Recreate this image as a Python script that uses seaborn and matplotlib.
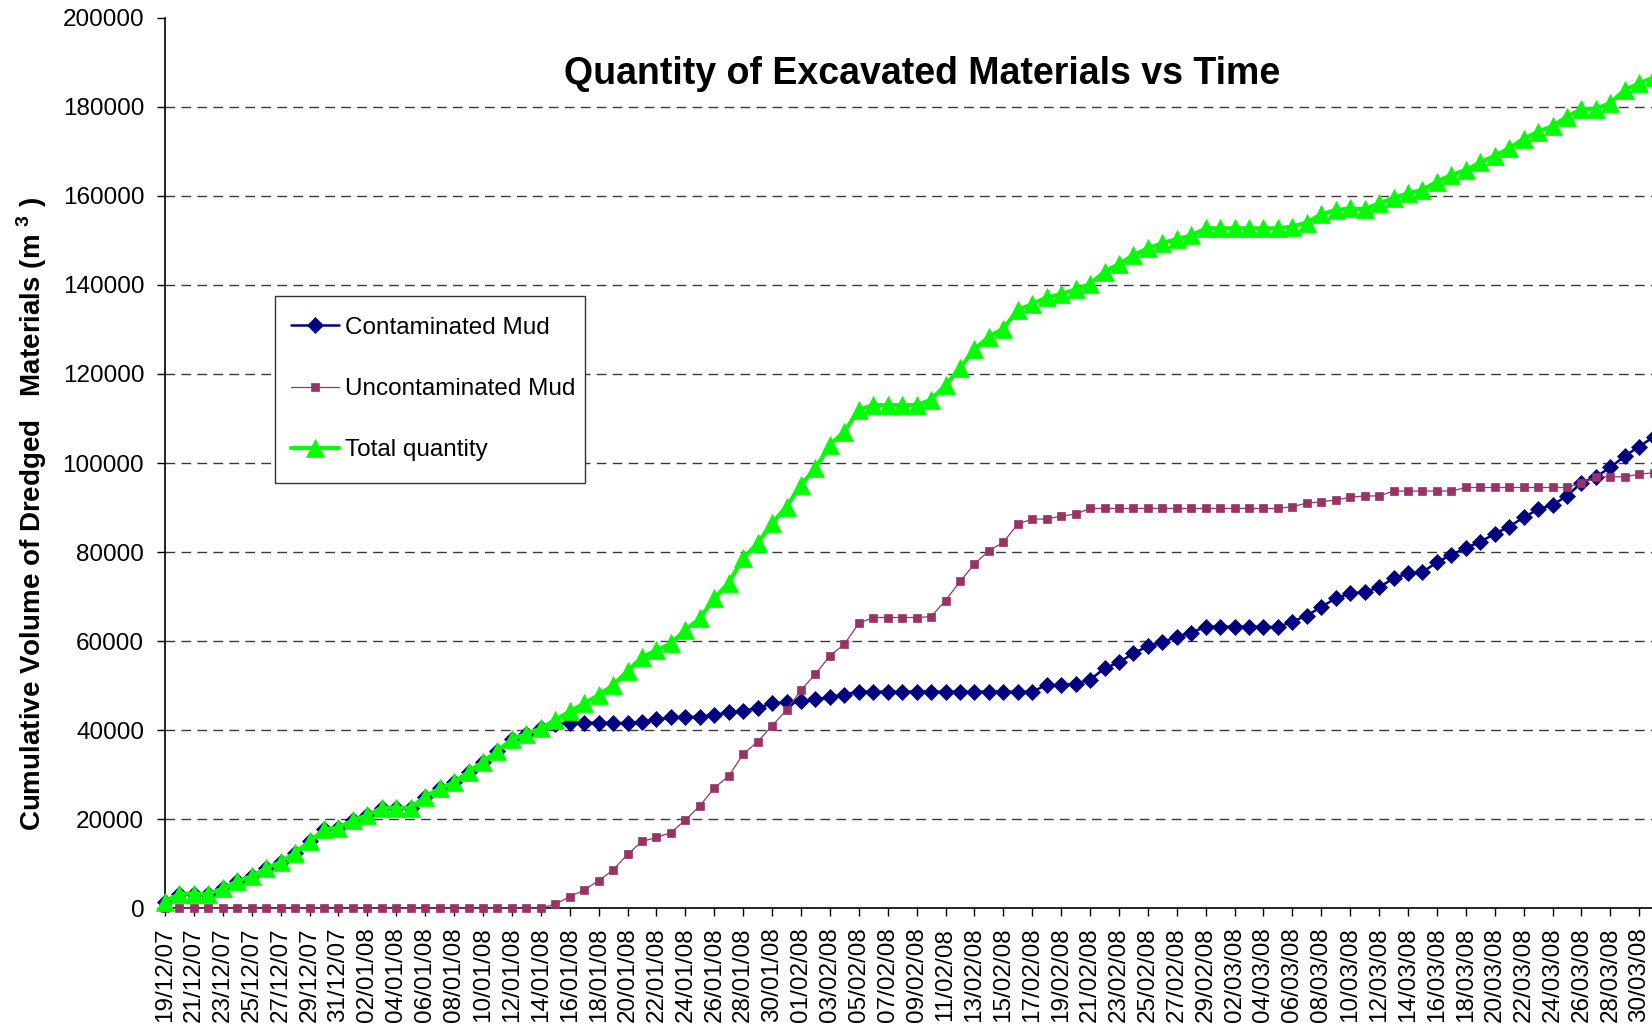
import matplotlib
matplotlib.use("Agg")
import matplotlib.pyplot as plt
import matplotlib.dates as mdates
from matplotlib.patches import Rectangle
import seaborn as sns
import pandas as pd

# daily dates 19/12/07 .. 31/03/08
days = pd.date_range("2007-12-19", "2008-03-31", freq="D")
tick_days = days[::2]

contaminated = [
    1500, 3300, 3300, 3200, 4500, 6100, 7250, 9000, 10400, 12500,
    15000, 17700, 18100, 19800, 20900, 22600, 22600, 22600, 25100, 26900,
    28300, 30700, 32900, 35300, 38000, 39200, 40400, 41400, 41600, 41700,
    41700, 41600, 41600, 41800, 42400, 42900, 43000, 43000, 43400, 44000,
    44300, 45000, 46000, 46300, 46500, 46900, 47400, 48000, 48650, 48650,
    48650, 48650, 48650, 48650, 48650, 48650, 48650, 48650, 48650, 48650,
    48650, 50150, 50150, 50400, 51300, 53900, 55200, 57300, 58800, 59700,
    61000, 61900, 63250, 63250, 63250, 63250, 63250, 63100, 64400, 65700,
    67700, 69600, 70700, 71000, 72100, 74100, 75200, 75500, 77700, 79400,
    80900, 82300, 84100, 85700, 87800, 89600, 90600, 92600, 95600, 96900,
    99000, 101600, 103700, 105900,
]

uncontaminated = [
    0, 0, 0, 0, 0, 0, 0, 0, 0, 0,
    0, 0, 0, 0, 0, 0, 0, 0, 0, 0,
    0, 0, 0, 0, 0, 0, 0, 900, 2600, 4100,
    6200, 8600, 12100, 15000, 15900, 17000, 19800, 23000, 27000, 29700,
    34600, 37400, 41000, 44500, 49000, 52600, 56700, 59300, 64000, 65300,
    65300, 65300, 65300, 65500, 69100, 73400, 77300, 80300, 82200, 86300,
    87400, 87400, 88100, 88500, 89800, 89800, 89800, 89800, 89800, 89800,
    89800, 89800, 89800, 89800, 89800, 89800, 89800, 89800, 90200, 91000,
    91300, 91700, 92300, 92600, 92600, 93700, 93700, 93700, 93700, 93700,
    94500, 94500, 94500, 94500, 94500, 94500, 94500, 94500, 95500, 96900,
    96900, 96900, 97500, 97800,
]

total = [
    1500, 3300, 3300, 3200, 4500, 6100, 7250, 9000, 10400, 12500,
    15000, 17700, 18100, 19800, 20900, 22600, 22600, 22600, 25100, 26900,
    28300, 30700, 32900, 35300, 38000, 39200, 40400, 42300, 44200, 46000,
    47900, 50100, 53300, 56400, 57900, 59500, 62500, 65100, 69600, 73100,
    78600, 82000, 86500, 90200, 95100, 98800, 104100, 107000, 112000, 113000,
    113000, 113000, 113000, 114200, 117500, 121300, 125500, 128400, 130200, 134400,
    135700, 137200, 137900, 139000, 140200, 143000, 144700, 146700, 148200, 149400,
    150300, 151100, 152700, 152700, 152700, 152700, 152700, 152700, 153100, 154000,
    155900, 156800, 157200, 157000, 158300, 159500, 160600, 161300, 163200, 164700,
    165800, 167500, 169000, 170700, 172800, 174400, 175700, 177800, 179500, 179500,
    180900, 183800, 185300, 186600,
]

y_ticks = list(range(0, 200001, 20000))
y_tick_labels = [str(v) for v in y_ticks]

sns.set_theme(style="white")
plt.rcParams["font.family"] = ["Liberation Sans", "DejaVu Sans"]
plt.rcParams["mathtext.fontset"] = "custom"
plt.rcParams["mathtext.rm"] = "Liberation Sans"
plt.rcParams["mathtext.bf"] = "Liberation Sans:bold"

fig = plt.figure(figsize=(16.52, 10.32), dpi=100)
ax = fig.add_axes([0.0999, 0.1199, 0.9001, 0.8629])

sns.lineplot(x=days, y=contaminated, ax=ax, color="#000080", linewidth=1.8,
             marker="D", markersize=7.8, markeredgecolor="#000080",
             markeredgewidth=0.5, label="Contaminated Mud", clip_on=False, zorder=3)
sns.lineplot(x=days, y=uncontaminated, ax=ax, color="#993366", linewidth=0.9,
             marker="s", markersize=6, markeredgecolor="#993366",
             markeredgewidth=0.5, label="Uncontaminated Mud", clip_on=False, zorder=4)
sns.lineplot(x=days, y=total, ax=ax, color="#00FF00", linewidth=3,
             marker="^", markersize=13, markeredgecolor="#00FF00",
             markeredgewidth=0.5, label="Total quantity", clip_on=False, zorder=5)

ax.set_xlim(days[0], days[0] + pd.Timedelta(days=102.88))
ax.set_ylim(0, 200000)
ax.set_yticks(y_ticks)
ax.set_yticklabels(y_tick_labels)
ax.set_xticks(tick_days)
ax.xaxis.set_major_formatter(mdates.DateFormatter("%d/%m/%y"))
ax.tick_params(axis="x", labelrotation=90, labelsize=17.5, direction="out",
               length=6, width=1, color="black", pad=8, bottom=True)
ax.tick_params(axis="y", labelsize=17.5, direction="out", length=6, width=1,
               color="black", pad=9, left=True)
for lab in ax.get_xticklabels() + ax.get_yticklabels():
    lab.set_color("black")

ax.yaxis.grid(True, linestyle=(0, (7, 4.5)), color="#3a3a3a", linewidth=1)
ax.xaxis.grid(False)
ax.set_axisbelow(True)
# no gridline along the top (200000)
ax.yaxis.get_gridlines()[-1].set_visible(False)
for side in ["top", "right"]:
    ax.spines[side].set_visible(False)
for side in ["left", "bottom"]:
    ax.spines[side].set_color("black")
    ax.spines[side].set_linewidth(1.2)
ax.set_xlabel("")
ax.set_ylabel("")

ax.text(0.509, 0.937, "Quantity of Excavated Materials vs Time", transform=ax.transAxes,
        ha="center", va="center", fontsize=27, fontweight="bold", color="black")

fig.text(0.0194, 0.5022, "Cumulative Volume of Dredged   Materials (m $^\\mathbf{3}$ )",
         rotation=90, ha="center", va="center", fontsize=20, fontweight="bold",
         color="black")

# legend box drawn separately so it can be narrower than matplotlib's padding allows
ax.add_patch(Rectangle((0.074, 0.4773), 0.2084, 0.2103, transform=ax.transAxes,
                       facecolor="white", edgecolor="#333333", linewidth=1.0,
                       clip_on=False, zorder=6))
leg = ax.legend(loc="upper left", bbox_to_anchor=(0.0706, 0.6876), frameon=False,
                fontsize=17.5, handlelength=2.0, handletextpad=0.25,
                labelspacing=1.62, borderpad=0.85, borderaxespad=0)
leg.set_zorder(7)
for t in leg.get_texts():
    t.set_color("black")

fig.savefig("out.png", dpi=100)
